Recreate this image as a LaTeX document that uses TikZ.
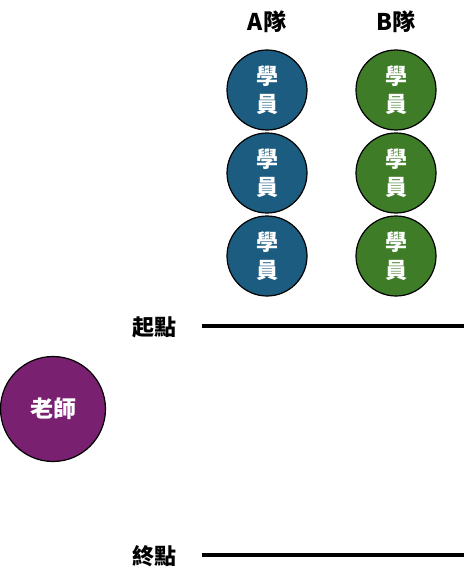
\documentclass[tikz,border=0pt]{standalone}
\usepackage{fontspec}
\setmainfont{Noto Sans CJK TC}
\definecolor{teamA}{RGB}{28,92,128}
\definecolor{teamB}{RGB}{62,124,40}
\definecolor{teacher}{RGB}{122,32,112}
\begin{document}
\begin{tikzpicture}[
        x=1pt, y=-1pt,
        student/.style={draw=black, line width=1.2pt, circle, minimum size=80pt, inner sep=0pt,
            text=white, align=center, font=\bfseries\fontsize{22}{28}\selectfont},
        team/.style={font=\bfseries\fontsize{23}{25}\selectfont},
        mark label/.style={font=\bfseries\fontsize{22}{24}\selectfont, anchor=east},
        track/.style={line width=4pt}
    ]
        \useasboundingbox (0,0) rectangle (467,585);

        % Team headings
        \node[team] (head-A) at (267,22) {A隊};
        \node[team] (head-B) at (396,22) {B隊};

        % Students of both teams
        \foreach \row/\y in {1/90, 2/173, 3/256} {
            \node[student, fill=teamA] (A-\row) at (267,\y) {學\\員};
            \node[student, fill=teamB] (B-\row) at (396,\y) {學\\員};
        }

        % Start and finish lines
        \node[mark label] (start) at (180,327) {起點};
        \coordinate (start-l) at (202,326);
        \coordinate (start-r) at (464,326);
        \draw[track] (start-l) -- (start-r);

        \node[mark label] (finish) at (180,556) {終點};
        \coordinate (finish-l) at (202,555);
        \coordinate (finish-r) at (464,555);
        \draw[track] (finish-l) -- (finish-r);

        % Teacher
        \node[student, fill=teacher, minimum size=105pt, font=\bfseries\fontsize{23}{25}\selectfont]
            (teacher) at (53,409) {老師};
    \end{tikzpicture}
\end{document}
